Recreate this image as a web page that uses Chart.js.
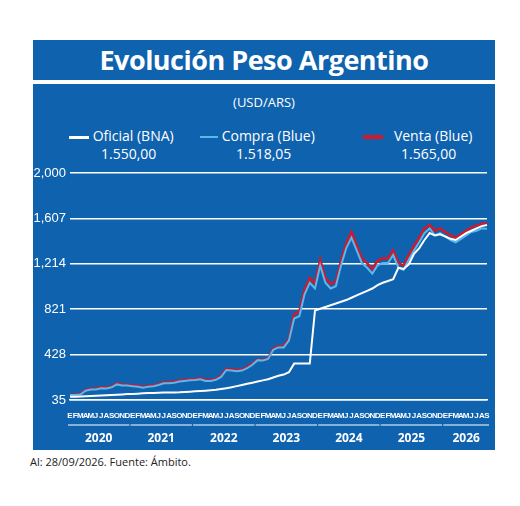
<!DOCTYPE html>
<html><head><meta charset="utf-8">
<script src="https://cdn.jsdelivr.net/npm/chart.js@4"></script>
<style>
body{margin:0;width:520px;height:506px;background:#fff;font-family:"Open Sans",sans-serif;position:relative;overflow:hidden}
#title{position:absolute;left:33px;top:40px;width:462px;height:40px;background:#0f62ae;color:#fff;font:bold 27px "Open Sans",sans-serif;text-align:center;line-height:40px;letter-spacing:-0.5px}
#panel{position:absolute;left:33px;top:84px;width:462px;height:366px;background:#0f62ae}
.t{position:absolute;color:#fff;font-size:14px;white-space:nowrap}
canvas{position:absolute;left:0;top:76px}
#foot{position:absolute;left:30px;top:454px;font-size:11px;color:#222}
</style></head><body>
<div id="title">Evolución Peso Argentino</div>
<div id="panel">
 <div class="t" style="left:0;width:462px;text-align:center;top:9px;font-size:13px">(USD/ARS)</div>
 <div class="t" style="left:36px;top:42px"><span style="display:inline-block;width:20px;height:3px;background:#fff;vertical-align:middle"></span> Oficial (BNA)</div>
 <div class="t" style="left:167px;top:42px"><span style="display:inline-block;width:18px;height:2px;background:#5bb8ea;vertical-align:middle"></span> Compra (Blue)</div>
 <div class="t" style="left:330px;top:42px"><span style="display:inline-block;width:20px;height:4px;background:#d3182a;vertical-align:middle"></span>&nbsp;&nbsp; Venta (Blue)</div>
 <div class="t" style="left:68px;top:60px">1.550,00</div>
 <div class="t" style="left:203px;top:60px">1.518,05</div>
 <div class="t" style="left:368px;top:60px">1.565,00</div>
 <canvas id="c" width="462" height="290"></canvas>
</div>
<div id="foot">Al: 28/09/2026. Fuente: Ámbito.</div>
<script>
const years = ['2020','2021','2022','2023','2024','2025','2026'];
const monthLetters = ['E','F','M','A','M','J','J','A','S','O','N','D'];
const yTicks = [35, 428, 821, 1214, 1607, 2000];

const oficial = [
  63,64,66,68,70,72,74,76,78,80,83,86,
  88,90,93,95,96,98,99,100,101,102,104,107,
  110,113,116,120,124,130,137,145,155,165,175,185,
  195,205,215,230,245,255,275,350,350,350,350,810,
  825,840,855,870,885,900,920,940,960,980,1000,1030,
  1050,1065,1080,1180,1170,1210,1300,1350,1420,1480,1460,1470,
  1450,1430,1420,1450,1480,1500,1520,1540,1550];
const compra = [
  78,78,83,115,125,126,137,135,145,170,160,160,
  155,150,142,150,155,165,180,180,185,195,200,205,
  208,215,200,200,210,235,295,290,285,290,310,340,
  380,377,390,470,490,490,550,740,760,950,1050,1000,
  1200,1050,1000,1020,1200,1350,1440,1330,1220,1180,1130,1200,
  1220,1220,1290,1180,1160,1250,1330,1400,1480,1520,1460,1480,
  1450,1420,1400,1430,1460,1490,1500,1520,1518];
const venta = [
  80,80,88,122,132,133,145,143,152,180,168,168,
  162,157,149,157,162,172,188,188,193,203,208,213,
  216,223,208,208,218,245,305,300,295,300,320,350,
  385,382,395,480,500,500,565,780,800,990,1090,1040,
  1250,1090,1040,1060,1240,1390,1490,1370,1260,1220,1170,1240,
  1260,1260,1330,1220,1200,1290,1370,1440,1520,1550,1500,1520,
  1490,1460,1440,1470,1500,1530,1545,1560,1565];

const labels = [];
years.forEach(y => monthLetters.forEach(m => labels.push(m)));
labels.length = oficial.length;

const yearPlugin = {
  id: 'years',
  afterDraw(chart) {
    const ctx = chart.ctx, x = chart.scales.x, b = chart.chartArea.bottom;
    ctx.save();
    ctx.strokeStyle = '#fff'; ctx.lineWidth = 1;
    ctx.fillStyle = '#fff'; ctx.font = 'bold 12px "Liberation Sans Narrow", "Open Sans", sans-serif';
    ctx.textAlign = 'center';
    years.forEach((y, i) => {
      const s = i * 12, e = Math.min(s + 11, labels.length - 1);
      const x0 = x.getPixelForValue(s) - 3, x1 = x.getPixelForValue(e) + 3;
      ctx.beginPath(); ctx.moveTo(x0 + 1, b + 25); ctx.lineTo(x1 - 1, b + 25); ctx.stroke();
      ctx.fillText(y, (x0 + x1) / 2, b + 42);
    });
    ctx.restore();
  }
};

new Chart(document.getElementById('c'), {
  type: 'line',
  data: { labels, datasets: [
    { data: oficial, borderColor: '#ffffff', borderWidth: 2 },
    { data: compra, borderColor: '#5bb8ea', borderWidth: 2 },
    { data: venta, borderColor: '#d3182a', borderWidth: 2.5 }
  ].map((d, i) => Object.assign(d, { pointRadius: 0, tension: 0, fill: false, order: i })) },
  options: {
    animation: false, responsive: false,
    layout: { padding: { top: 13, right: 8 } },
    plugins: { legend: { display: false }, tooltip: { enabled: false } },
    scales: {
      x: {
        offset: false,
        grid: { display: false }, border: { color: '#fff', width: 1.5 },
        ticks: { color: '#fff', autoSkip: false, maxRotation: 0, padding: 3,
          font: { size: 8, family: '"Liberation Sans Narrow", sans-serif', weight: 'bold' } },
        afterFit(s) { s.height = 50; }
      },
      y: {
        min: 35, max: 2000,
        afterBuildTicks(s) { s.ticks = yTicks.map(v => ({ value: v })); },
        afterFit(s) { s.width = 37; },
        grid: { color: '#fff', lineWidth: 1.5, drawTicks: false },
        border: { display: false },
        ticks: { color: '#fff', padding: 4, font: { size: 13, family: '"Liberation Sans Narrow", sans-serif' } }
      }
    }
  },
  plugins: [yearPlugin]
});
</script>
</body></html>
